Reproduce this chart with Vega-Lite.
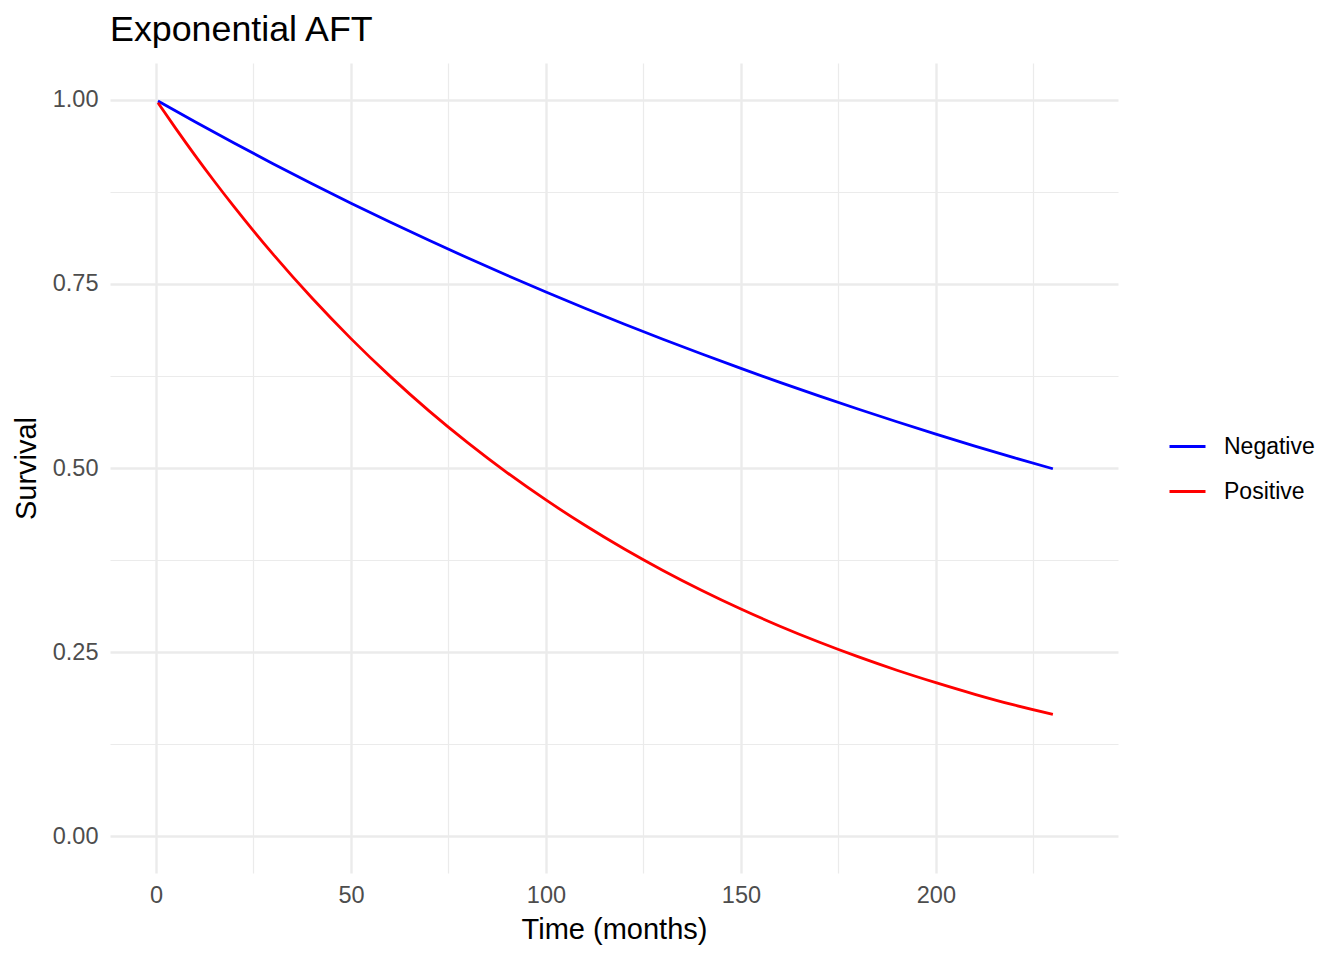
{
  "$schema": "https://vega.github.io/schema/vega-lite/v6.json",
  "autosize": {"type": "none"},
  "padding": {"left": 110, "top": 63, "right": 226, "bottom": 87},
  "width": 1008,
  "height": 810,
  "background": "white",
  "title": {
    "text": "Exponential AFT",
    "anchor": "start",
    "frame": "group",
    "font": "Liberation Sans",
    "fontSize": 35.8,
    "fontWeight": "normal",
    "color": "#000000",
    "baseline": "alphabetic",
    "offset": -14
  },
  "config": {"view": {"stroke": null}, "font": "Liberation Sans"},
  "data": {
    "values": [
      {"time": 0.5, "group": "Negative", "survival": 0.9985},
      {"time": 10, "group": "Negative", "survival": 0.9702},
      {"time": 20, "group": "Negative", "survival": 0.9413},
      {"time": 30, "group": "Negative", "survival": 0.9133},
      {"time": 40, "group": "Negative", "survival": 0.886},
      {"time": 50, "group": "Negative", "survival": 0.8596},
      {"time": 60, "group": "Negative", "survival": 0.834},
      {"time": 70, "group": "Negative", "survival": 0.8092},
      {"time": 80, "group": "Negative", "survival": 0.7851},
      {"time": 90, "group": "Negative", "survival": 0.7617},
      {"time": 100, "group": "Negative", "survival": 0.739},
      {"time": 110, "group": "Negative", "survival": 0.717},
      {"time": 120, "group": "Negative", "survival": 0.6956},
      {"time": 130, "group": "Negative", "survival": 0.6749},
      {"time": 140, "group": "Negative", "survival": 0.6548},
      {"time": 150, "group": "Negative", "survival": 0.6353},
      {"time": 160, "group": "Negative", "survival": 0.6163},
      {"time": 170, "group": "Negative", "survival": 0.598},
      {"time": 180, "group": "Negative", "survival": 0.5801},
      {"time": 190, "group": "Negative", "survival": 0.5628},
      {"time": 200, "group": "Negative", "survival": 0.5461},
      {"time": 210, "group": "Negative", "survival": 0.5298},
      {"time": 220, "group": "Negative", "survival": 0.514},
      {"time": 230, "group": "Negative", "survival": 0.499},
      {"time": 0.5, "group": "Positive", "survival": 0.9961},
      {"time": 5, "group": "Positive", "survival": 0.9616},
      {"time": 10, "group": "Positive", "survival": 0.9246},
      {"time": 15, "group": "Positive", "survival": 0.8891},
      {"time": 20, "group": "Positive", "survival": 0.8549},
      {"time": 25, "group": "Positive", "survival": 0.8220},
      {"time": 30, "group": "Positive", "survival": 0.7904},
      {"time": 40, "group": "Positive", "survival": 0.7308},
      {"time": 50, "group": "Positive", "survival": 0.6757},
      {"time": 60, "group": "Positive", "survival": 0.6248},
      {"time": 70, "group": "Positive", "survival": 0.5776},
      {"time": 80, "group": "Positive", "survival": 0.5341},
      {"time": 90, "group": "Positive", "survival": 0.4938},
      {"time": 100, "group": "Positive", "survival": 0.4566},
      {"time": 110, "group": "Positive", "survival": 0.4222},
      {"time": 120, "group": "Positive", "survival": 0.3903},
      {"time": 130, "group": "Positive", "survival": 0.3609},
      {"time": 140, "group": "Positive", "survival": 0.3337},
      {"time": 150, "group": "Positive", "survival": 0.3085},
      {"time": 160, "group": "Positive", "survival": 0.2852},
      {"time": 170, "group": "Positive", "survival": 0.2637},
      {"time": 180, "group": "Positive", "survival": 0.2438},
      {"time": 190, "group": "Positive", "survival": 0.2254},
      {"time": 200, "group": "Positive", "survival": 0.2085},
      {"time": 210, "group": "Positive", "survival": 0.1927},
      {"time": 220, "group": "Positive", "survival": 0.1782},
      {"time": 230, "group": "Positive", "survival": 0.1655}
    ]
  },
  "layer": [
    {
      "mark": {"type": "point", "opacity": 0},
      "encoding": {
        "x": {
          "field": "time",
          "type": "quantitative",
          "scale": {"domain": [-11.8, 246.7], "nice": false, "zero": false},
          "axis": {
            "orient": "top",
            "values": [25, 75, 125, 175, 225],
            "grid": true,
            "gridColor": "#EBEBEB",
            "gridWidth": 1.2,
            "labels": false,
            "ticks": false,
            "domain": false,
            "title": null
          }
        },
        "y": {
          "field": "survival",
          "type": "quantitative",
          "scale": {"domain": [-0.05, 1.05], "nice": false, "zero": false},
          "axis": {
            "orient": "right",
            "values": [0.125, 0.375, 0.625, 0.875],
            "grid": true,
            "gridColor": "#EBEBEB",
            "gridWidth": 1.2,
            "labels": false,
            "ticks": false,
            "domain": false,
            "title": null
          }
        }
      }
    },
    {
      "mark": {"type": "line", "strokeWidth": 2.8, "interpolate": "monotone"},
      "encoding": {
        "x": {
          "field": "time",
          "type": "quantitative",
          "scale": {"domain": [-11.8, 246.7], "nice": false, "zero": false},
          "axis": {
            "orient": "bottom",
            "values": [0, 50, 100, 150, 200],
            "grid": true,
            "gridColor": "#EBEBEB",
            "gridWidth": 2.4,
            "ticks": false,
            "domain": false,
            "labelFont": "Liberation Sans",
            "labelFontSize": 23.5,
            "labelColor": "#4D4D4D",
            "labelPadding": 10,
            "labelFlush": false,
            "title": "Time (months)",
            "titleFont": "Liberation Sans",
            "titleFontSize": 29,
            "titleFontWeight": "normal",
            "titleColor": "#000000",
            "titlePadding": 9
          }
        },
        "y": {
          "field": "survival",
          "type": "quantitative",
          "scale": {"domain": [-0.05, 1.05], "nice": false, "zero": false},
          "axis": {
            "orient": "left",
            "values": [0, 0.25, 0.5, 0.75, 1],
            "format": ".2f",
            "grid": true,
            "gridColor": "#EBEBEB",
            "gridWidth": 2.4,
            "ticks": false,
            "domain": false,
            "labelFont": "Liberation Sans",
            "labelFontSize": 23.5,
            "labelColor": "#4D4D4D",
            "labelPadding": 12,
            "title": "Survival",
            "titleFont": "Liberation Sans",
            "titleFontSize": 29,
            "titleFontWeight": "normal",
            "titleColor": "#000000",
            "titlePadding": 11
          }
        },
        "color": {
          "field": "group",
          "type": "nominal",
          "scale": {"domain": ["Negative", "Positive"], "range": ["#0000FF", "#FF0000"]},
          "legend": {
            "title": null,
            "orient": "none",
            "legendX": 1058,
            "legendY": 364,
            "padding": 0,
            "symbolType": "stroke",
            "symbolSize": 1296,
            "symbolStrokeWidth": 2.8,
            "labelFont": "Liberation Sans",
            "labelFontSize": 23,
            "labelColor": "#000000",
            "labelOffset": 17,
            "rowPadding": 13
          }
        }
      }
    }
  ],
  "resolve": {"axis": {"x": "independent", "y": "independent"}}
}
